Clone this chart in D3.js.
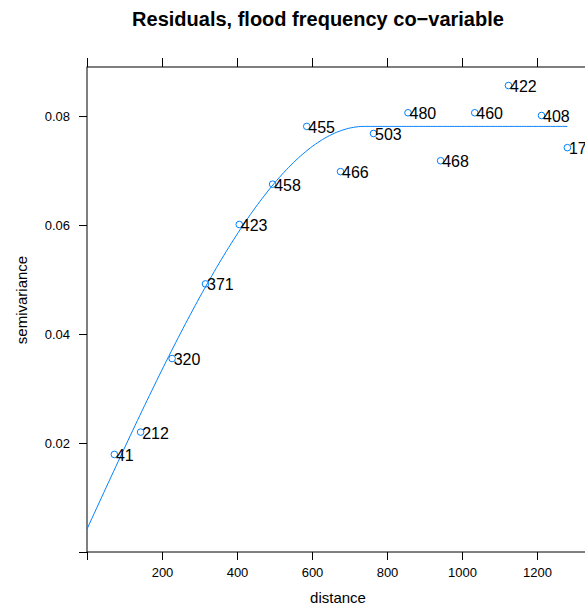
<!DOCTYPE html>
<html>
<head>
<meta charset="utf-8">
<script src="https://cdn.jsdelivr.net/npm/d3@7"></script>
<style>
  body { margin: 0; background: #fff; }
  svg { font-family: "Liberation Sans", Arial, sans-serif; }
</style>
</head>
<body>
<div class="chart"></div>
<script>
// sample variogram points
var distances = [73, 143, 227, 316, 406, 495, 586, 676, 764, 856, 943, 1034, 1124, 1212, 1281];
var gammas = [0.0179, 0.0220, 0.0355, 0.0492, 0.0601, 0.0675, 0.0781, 0.0698, 0.0768, 0.0806, 0.0718, 0.0806, 0.0856, 0.0801, 0.0742];
var pairCounts = ["41", "212", "320", "371", "423", "458", "455", "466", "503", "480", "468", "460", "422", "408", "175"];

// fitted spherical model
var modelNugget = 0.0042;
var modelPsill = 0.0739;
var modelRange = 740;

var xTicks = [0, 200, 400, 600, 800, 1000, 1200];
var yTicks = [0, 0.02, 0.04, 0.06, 0.08];

var svgWidth = 585;
var svgHeight = 609;

var margin = { top: 67, left: 87 };
var width = 510;   // panel runs past the right edge of the picture
var height = 485;

var svg = d3.select(".chart")
    .append("svg")
    .attr("width", svgWidth)
    .attr("height", svgHeight);

var chartGroup = svg.append("g")
    .attr("transform", `translate(${margin.left}, ${margin.top})`);

var xScale = d3.scaleLinear()
    .domain([0, 1360])
    .range([0, width]);
var yScale = d3.scaleLinear()
    .domain([0, 0.089])
    .range([height, 0]);

var fmtX = d => d === 0 ? "" : d3.format("d")(d);
var fmtY = d => d === 0 ? "" : d3.format(".2f")(d);

var bottomAxis = d3.axisBottom(xScale).tickValues(xTicks).tickFormat(fmtX)
    .tickSize(8).tickSizeOuter(0).tickPadding(8);
var topAxis = d3.axisTop(xScale).tickValues(xTicks).tickFormat("")
    .tickSize(9).tickSizeOuter(0);
var leftAxis = d3.axisLeft(yScale).tickValues(yTicks).tickFormat(fmtY)
    .tickSize(8).tickSizeOuter(0).tickPadding(9);

chartGroup.append("g")
    .attr("transform", `translate(0, ${height})`)
    .call(bottomAxis);
chartGroup.append("g")
    .call(topAxis);
chartGroup.append("g")
    .call(leftAxis);

chartGroup.selectAll(".domain").remove();
chartGroup.selectAll(".tick line").attr("stroke", "#000");
chartGroup.selectAll(".tick text")
    .attr("fill", "#000")
    .style("font-size", "13px")
    .style("font-family", "'Liberation Sans', Arial, sans-serif");

// panel box
chartGroup.append("rect")
    .attr("x", 0)
    .attr("y", 0)
    .attr("width", width)
    .attr("height", height)
    .attr("fill", "none")
    .attr("stroke", "#000")
    .attr("stroke-width", 1);

// model line
var sph = function(h) {
    if (h >= modelRange) return modelNugget + modelPsill;
    var r = h / modelRange;
    return modelNugget + modelPsill * (1.5 * r - 0.5 * r * r * r);
};
var lineH = d3.range(0, 201).map(i => i / 200 * d3.max(distances));
var line = d3.line()
    .x(d => xScale(d))
    .y(d => yScale(sph(d)));
chartGroup.append("path")
    .datum(lineH)
    .attr("d", line)
    .attr("fill", "none")
    .attr("stroke", "#0080ff")
    .attr("stroke-width", 1);

var pts = distances.map((d, i) => ({ dist: d, gamma: gammas[i], np: pairCounts[i] }));

chartGroup.selectAll("circle")
    .data(pts)
    .enter()
    .append("circle")
    .attr("cx", d => xScale(d.dist))
    .attr("cy", d => yScale(d.gamma))
    .attr("r", 3.3)
    .attr("fill", "none")
    .attr("stroke", "#0080ff")
    .attr("stroke-width", 1);

chartGroup.append("g")
    .selectAll("text")
    .data(pts)
    .enter()
    .append("text")
    .attr("x", d => xScale(d.dist) + 1.5)
    .attr("y", d => yScale(d.gamma))
    .attr("dy", "0.4em")
    .style("font-size", "16px")
    .style("fill", "#000")
    .text(d => d.np);

// titles
svg.append("text")
    .attr("x", 318)
    .attr("y", 25.5)
    .attr("text-anchor", "middle")
    .style("font-size", "20px")
    .style("font-weight", "bold")
    .text("Residuals, flood frequency co\u2212variable");

svg.append("text")
    .attr("transform", "translate(27, 300) rotate(-90)")
    .attr("text-anchor", "middle")
    .style("font-size", "15px")
    .text("semivariance");

svg.append("text")
    .attr("x", 338)
    .attr("y", 603)
    .attr("text-anchor", "middle")
    .style("font-size", "15px")
    .text("distance");
</script>
</body>
</html>
